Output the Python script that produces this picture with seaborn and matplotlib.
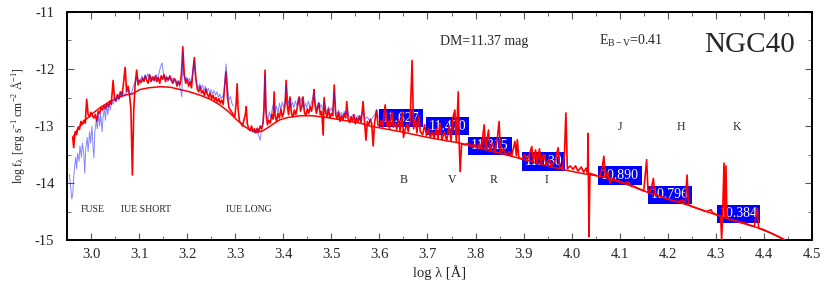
import matplotlib
matplotlib.use("Agg")
import matplotlib.pyplot as plt
import seaborn as sns
from matplotlib.ticker import MultipleLocator, FormatStrFormatter

# model continuum (log lambda, log flux)
model_x = [2.962, 2.975, 2.990, 3.005, 3.020, 3.040, 3.057, 3.074, 3.085, 3.102, 3.120, 3.144,
           3.165, 3.185, 3.205, 3.227, 3.248, 3.268, 3.285, 3.303, 3.318, 3.331, 3.345, 3.356,
           3.366, 3.380, 3.393, 3.410, 3.435, 3.460, 3.490, 3.525, 3.560, 3.580, 3.650, 3.700,
           3.768, 3.820, 3.870, 3.920, 3.969, 4.020, 4.065, 4.110, 4.160, 4.200, 4.239, 4.280,
           4.330, 4.385, 4.415, 4.444]
model_y = [-13.20, -13.02, -12.88, -12.77, -12.67, -12.57, -12.50, -12.45, -12.44, -12.36, -12.33, -12.31,
           -12.32, -12.36, -12.40, -12.46, -12.53, -12.63, -12.74, -12.89, -13.00, -13.07, -13.11, -13.09,
           -13.04, -12.96, -12.89, -12.85, -12.82, -12.82, -12.85, -12.90, -12.95, -13.00, -13.11, -13.20,
           -13.30, -13.41, -13.52, -13.63, -13.74, -13.83, -13.89, -14.01, -14.17, -14.28, -14.38, -14.50,
           -14.64, -14.78, -14.88, -15.00]

# observed spectrum, red (UV + optical)
obs_x = [2.962, 2.964, 2.967, 2.970, 2.973, 2.976, 2.979, 2.982, 2.985, 2.988, 2.991, 2.994, 2.997,
         3.000, 3.003, 3.006, 3.009, 3.012, 3.015, 3.018, 3.021, 3.024, 3.027, 3.030, 3.033, 3.036,
         3.039, 3.042, 3.046, 3.049, 3.052, 3.055, 3.058, 3.061, 3.064, 3.067, 3.071, 3.074, 3.077,
         3.080, 3.083, 3.086, 3.089, 3.092, 3.095, 3.098, 3.101, 3.104, 3.107, 3.110, 3.113, 3.116,
         3.119, 3.122, 3.125, 3.128, 3.131, 3.134, 3.137, 3.140, 3.143, 3.146, 3.149, 3.152, 3.155,
         3.158, 3.161, 3.164, 3.167, 3.170, 3.173, 3.176, 3.179, 3.182, 3.185, 3.188, 3.191, 3.194,
         3.197, 3.200, 3.203, 3.206, 3.209, 3.212, 3.215, 3.218, 3.221, 3.224, 3.227, 3.230, 3.233,
         3.236, 3.239, 3.242, 3.245, 3.248, 3.251, 3.254, 3.257, 3.260, 3.263, 3.266, 3.269, 3.272,
         3.275, 3.278, 3.281, 3.284, 3.287, 3.290, 3.293, 3.296, 3.299, 3.302, 3.304, 3.306, 3.309,
         3.312, 3.315, 3.318, 3.321, 3.323, 3.325, 3.328, 3.331, 3.334, 3.337, 3.340, 3.343, 3.346,
         3.349, 3.352, 3.355, 3.358, 3.360, 3.362, 3.364, 3.367, 3.370, 3.373, 3.376, 3.379, 3.381,
         3.383, 3.386, 3.389, 3.392, 3.395, 3.398, 3.401, 3.404, 3.406, 3.408, 3.411, 3.414, 3.417,
         3.420, 3.423, 3.426, 3.429, 3.433, 3.436, 3.439, 3.441, 3.444, 3.447, 3.450, 3.453, 3.456,
         3.459, 3.462, 3.464, 3.466, 3.469, 3.472, 3.474, 3.477, 3.480, 3.483, 3.485, 3.488, 3.491,
         3.494, 3.497, 3.500, 3.503, 3.506, 3.509, 3.512, 3.515, 3.518, 3.521, 3.524, 3.527, 3.530,
         3.532, 3.535, 3.538, 3.541, 3.544, 3.547, 3.550, 3.553, 3.556, 3.559, 3.562, 3.566, 3.569,
         3.572, 3.575, 3.578, 3.581, 3.584, 3.587, 3.590, 3.594, 3.597,
         3.600, 3.604, 3.607, 3.612, 3.615, 3.618, 3.621, 3.626, 3.629, 3.633, 3.636, 3.640, 3.643,
         3.648, 3.650, 3.653, 3.657, 3.660, 3.664, 3.668, 3.671, 3.675, 3.678, 3.682, 3.685, 3.690,
         3.694, 3.698, 3.702, 3.706, 3.710, 3.714, 3.718, 3.722, 3.726, 3.730, 3.735, 3.740, 3.745,
         3.749, 3.753, 3.757, 3.760, 3.764, 3.766, 3.768, 3.771, 3.778, 3.785, 3.790, 3.797, 3.803,
         3.808, 3.812, 3.818, 3.821, 3.827, 3.830, 3.836, 3.840, 3.845, 3.849, 3.852, 3.858, 3.863,
         3.870, 3.875, 3.882, 3.885, 3.887, 3.890, 3.896, 3.902, 3.907, 3.912, 3.917, 3.920, 3.925,
         3.928, 3.933, 3.936, 3.942, 3.947, 3.953, 3.958, 3.965, 3.972, 3.975, 3.981, 3.985, 3.988,
         3.991, 3.997, 4.003, 4.008, 4.013, 4.020, 4.025, 4.030, 4.033, 4.034, 4.036, 4.038, 4.045,
         4.052, 4.059, 4.064, 4.067, 4.070, 4.075, 4.080, 4.085, 4.092, 4.100, 4.110, 4.118, 4.122,
         4.130, 4.140, 4.150, 4.156, 4.159, 4.165, 4.170, 4.173, 4.180, 4.190, 4.200, 4.210, 4.220,
         4.230, 4.236, 4.240, 4.243, 4.250, 4.260, 4.270, 4.280, 4.290, 4.293, 4.300, 4.310, 4.312,
         4.314, 4.317, 4.319, 4.321, 4.323, 4.330, 4.340, 4.350, 4.360, 4.370, 4.380, 4.386, 4.389,
         4.400, 4.415, 4.430, 4.444]
obs_y = [-13.20, -13.38, -13.10, -13.15, -13.02, -13.06, -12.92, -12.97, -12.90, -12.95, -12.53, -12.80, -12.84,
         -12.76, -12.82, -12.86, -12.80, -12.92, -12.74, -12.78, -12.68, -12.72, -12.64, -12.70, -12.60, -12.66,
         -12.56, -12.62, -12.20, -12.52, -12.56, -12.45, -12.52, -12.40, -12.47, -12.30, -11.97, -12.40, -12.30,
         -12.45, -12.70, -13.86, -12.70, -12.25, -12.02, -12.28, -12.20, -12.24, -12.16, -12.22, -12.12, -12.20,
         -12.25, -12.10, -12.22, -12.14, -12.20, -12.12, -12.22, -12.15, -12.25, -12.12, -12.18, -12.10, -12.22,
         -12.15, -12.19, -12.12, -12.20, -12.25, -12.17, -12.20, -12.30, -12.22, -12.28, -12.10, -11.61, -12.10,
         -12.25, -12.18, -12.30, -12.22, -12.33, -12.05, -11.80, -12.15, -12.35, -12.40, -12.30, -12.42, -12.38,
         -12.47, -12.35, -12.44, -12.50, -12.42, -12.52, -12.46, -12.55, -12.50, -12.58, -12.52, -12.60, -12.55,
         -12.62, -12.30, -12.05, -12.50, -12.68, -12.72, -12.76, -12.80, -12.84, -12.60, -12.26, -12.70, -12.92,
         -12.95, -13.00, -12.90, -12.80, -12.66, -12.95, -13.05, -13.08, -13.00, -13.10, -13.05, -13.12, -13.04,
         -13.10, -13.00, -13.05, -12.95, -12.70, -12.02, -12.75, -12.98, -12.90, -12.95, -12.80, -12.88, -12.40,
         -12.82, -12.92, -12.78, -12.86, -12.70, -12.84, -12.76, -12.60, -12.20, -12.62, -12.80, -12.49, -12.78,
         -12.84, -12.72, -12.80, -12.68, -12.49, -12.74, -12.64, -12.49, -12.76, -12.82, -12.70, -12.78, -12.66,
         -12.74, -12.55, -12.36, -12.62, -12.78, -12.66, -12.60, -12.80, -12.74, -13.16, -12.50, -12.76, -12.84,
         -12.70, -12.86, -12.78, -12.82, -12.28, -12.80, -12.88, -12.76, -12.92, -12.82, -12.90, -12.78, -12.86,
         -12.57, -12.88, -12.94, -12.84, -12.92, -12.80, -12.96, -12.86, -12.92, -12.82, -12.94, -12.57, -12.90,
         -13.25, -12.92, -12.98, -12.88, -12.96, -13.35, -12.94, -12.72, -12.98,
         -13.00, -12.90, -13.02, -12.63, -13.00, -12.92, -13.05, -12.75, -13.02, -12.95, -13.06, -12.88, -13.08,
         -12.75, -13.20, -13.08, -12.96, -13.10, -12.90, -11.85, -13.05, -12.88, -13.12, -12.82, -13.10, -13.15,
         -12.98, -13.17, -13.05, -13.20, -13.10, -13.22, -13.05, -13.22, -12.95, -13.24, -13.10, -13.26, -13.00,
         -13.27, -12.85, -12.72, -13.28, -12.40, -13.30, -13.80, -13.31, -13.33, -13.30, -13.35, -13.33, -13.38,
         -13.30, -13.40, -12.98, -13.42, -13.07, -13.43, -13.30, -13.46, -13.25, -12.92, -13.48, -13.40, -13.50,
         -13.45, -13.53, -13.27, -13.52, -13.24, -13.56, -13.58, -13.50, -13.61, -13.50, -13.36, -13.63, -13.42,
         -13.64, -13.40, -13.66, -13.50, -13.67, -13.58, -13.69, -13.62, -13.38, -13.72, -13.74, -13.50, -12.77,
         -13.75, -13.70, -13.76, -13.70, -13.79, -13.72, -13.81, -13.74, -13.82, -13.13, -14.94, -13.83, -13.85,
         -13.87, -13.89, -13.70, -13.53, -13.90, -13.80, -14.00, -13.92, -13.95, -13.97, -14.01, -13.98, -14.04,
         -14.06, -14.10, -14.14, -13.59, -14.17, -14.12, -13.92, -14.19, -14.22, -14.25, -14.28, -14.31, -14.33,
         -14.30, -14.37, -13.86, -14.38, -14.41, -14.44, -14.47, -14.50, -14.47, -14.52, -14.55, -14.58, -15.00,
         -14.58, -13.65, -14.60, -13.70, -14.61, -14.64, -14.66, -14.69, -14.70, -14.74, -14.76, -14.45, -14.79,
         -14.82, -14.88, -14.94, -15.00]

# FUSE + IUE short wavelength spectrum (blue)
uv_x = [2.955, 2.958, 2.960, 2.962, 2.964, 2.966, 2.968, 2.970, 2.972, 2.975, 2.977, 2.980, 2.982,
        2.985, 2.987, 2.989, 2.992, 2.994, 2.997, 2.999, 3.002, 3.004, 3.006, 3.008, 3.011, 3.013,
        3.016, 3.018, 3.020, 3.023, 3.025, 3.028, 3.030, 3.033, 3.035, 3.038, 3.040, 3.043, 3.046,
        3.049, 3.052, 3.055, 3.058, 3.061, 3.064, 3.067, 3.070, 3.073, 3.076, 3.079, 3.082, 3.085,
        3.088, 3.091, 3.094, 3.097, 3.100, 3.103, 3.106, 3.109, 3.112, 3.115, 3.118, 3.121, 3.124,
        3.127, 3.130, 3.133, 3.136, 3.139, 3.142, 3.145, 3.148, 3.151, 3.154, 3.157, 3.160, 3.163,
        3.166, 3.169, 3.172, 3.175, 3.178, 3.181, 3.184, 3.187, 3.189, 3.191, 3.193, 3.196, 3.199,
        3.202, 3.205, 3.208, 3.211, 3.214, 3.217, 3.220, 3.223, 3.226, 3.229, 3.232, 3.235, 3.238,
        3.241, 3.244, 3.247, 3.250, 3.253, 3.256, 3.259, 3.262, 3.265, 3.268, 3.271, 3.274, 3.277,
        3.279, 3.281, 3.284, 3.287, 3.290, 3.293, 3.296]
uv_y = [-13.85, -14.10, -14.28, -14.20, -13.90, -13.70, -13.55, -13.75, -13.48, -13.62, -13.35, -13.55, -13.30,
        -13.50, -13.83, -13.40, -13.20, -13.45, -13.10, -13.30, -13.00, -13.35, -13.56, -13.10, -12.90, -13.05,
        -12.80, -13.00, -12.78, -13.10, -12.85, -12.70, -12.90, -12.62, -12.80, -12.60, -12.72, -12.55, -12.62,
        -12.52, -12.58, -12.45, -12.55, -12.42, -12.50, -12.40, -12.48, -12.42, -12.35, -12.40, -12.45, -12.40,
        -12.30, -12.25, -12.20, -12.15, -12.22, -12.18, -12.12, -12.20, -12.10, -12.18, -12.08, -12.16, -12.12,
        -12.20, -12.14, -12.22, -12.10, -12.18, -12.05, -11.95, -11.89, -12.10, -12.18, -12.12, -12.22, -12.14,
        -12.20, -12.16, -12.24, -12.18, -12.26, -12.20, -12.30, -12.38, -12.49, -11.70, -12.10, -12.20, -12.14,
        -12.22, -12.16, -12.25, -12.10, -11.85, -12.12, -12.28, -12.34, -12.26, -12.36, -12.28, -12.38, -12.30,
        -12.40, -12.34, -12.42, -12.36, -12.44, -12.38, -12.46, -12.40, -12.50, -12.44, -12.52, -12.48, -12.40,
        -12.10, -11.91, -12.30, -12.55, -12.48, -12.60, -12.65]

# IUE long wavelength spectrum (blue)
iuel_x = [3.335, 3.340, 3.344, 3.348, 3.352, 3.355, 3.358, 3.362, 3.365, 3.368, 3.371, 3.374, 3.377,
          3.380, 3.383, 3.386, 3.389, 3.392, 3.395, 3.398, 3.401, 3.404, 3.407, 3.410, 3.413, 3.416,
          3.419, 3.422, 3.425, 3.428, 3.431, 3.434, 3.437, 3.440, 3.443, 3.446, 3.449, 3.452, 3.455,
          3.458, 3.461, 3.464, 3.467, 3.470, 3.473, 3.476, 3.479, 3.482, 3.485, 3.488, 3.491, 3.494,
          3.497, 3.500, 3.503, 3.506, 3.509, 3.512, 3.515, 3.518, 3.521, 3.524, 3.527, 3.530, 3.533,
          3.536, 3.540, 3.545, 3.550, 3.555, 3.560, 3.565, 3.570, 3.575, 3.580, 3.585, 3.590, 3.595,
          3.598]
iuel_y = [-13.05, -13.12, -13.05, -13.15, -13.25, -13.05, -12.90, -12.10, -12.80, -12.90, -12.75, -12.85, -12.70,
          -12.60, -12.75, -12.65, -12.78, -12.60, -12.70, -12.58, -12.68, -12.55, -12.30, -12.62, -12.52, -12.66,
          -12.58, -12.68, -12.56, -12.64, -12.52, -12.60, -12.50, -12.62, -12.70, -12.60, -12.68, -12.56, -12.66,
          -12.60, -12.52, -12.40, -12.62, -12.70, -12.58, -12.68, -12.62, -12.72, -12.55, -12.70, -12.76, -12.66,
          -12.74, -12.68, -12.76, -12.40, -12.74, -12.80, -12.72, -12.82, -12.76, -12.84, -12.74, -12.80, -12.70,
          -12.82, -12.86, -12.80, -12.88, -12.82, -12.90, -12.75, -12.88, -12.84, -12.92, -12.86, -12.80, -12.72,
          -12.85]

# photometry
bands = ["B", "V", "R", "I", "J", "H", "K"]
band_x = [3.651, 3.751, 3.838, 3.947, 4.100, 4.227, 4.344]
mags = ["11.627", "11.470", "11.315", "11.130", "10.890", "10.796", "10.384"]
phot_x = [3.645, 3.741, 3.830, 3.942, 4.100, 4.205, 4.347]
phot_y = [-12.86, -13.00, -13.35, -13.62, -13.87, -14.21, -14.54]

sns.set_style("ticks")
plt.rcParams['font.family'] = ['Liberation Serif', 'DejaVu Serif']
plt.rcParams['mathtext.fontset'] = 'custom'
plt.rcParams['mathtext.rm'] = 'Liberation Serif'
plt.rcParams['mathtext.it'] = 'Liberation Serif:italic'
plt.rcParams['axes.unicode_minus'] = False

fig = plt.figure(figsize=(8.3, 2.97), dpi=100)
ax = fig.add_axes([0.0807, 0.1919, 0.8976, 0.7677])

# photometry boxes (under the spectrum)
for x, y, m in zip(phot_x, phot_y, mags):
    ax.text(x, y, m, color='white', fontsize=10, ha='center', va='center', zorder=2,
            bbox=dict(boxstyle='square,pad=0.2', fc='#0000ff', ec='none'))

sns.lineplot(x=obs_x, y=obs_y, sort=False, estimator=None, color='red', lw=1.2, ax=ax, zorder=3)
sns.lineplot(x=model_x, y=model_y, sort=False, estimator=None, color='red', lw=1.1, ax=ax, zorder=3)
sns.lineplot(x=uv_x, y=uv_y, sort=False, estimator=None, color='#2222ff', lw=0.7, alpha=0.55, ax=ax, zorder=4)
sns.lineplot(x=iuel_x, y=iuel_y, sort=False, estimator=None, color='#2222ff', lw=0.7, alpha=0.55, ax=ax, zorder=4)

for b, x in zip(bands[:4], band_x[:4]):
    ax.text(x, -13.95, b, fontsize=8.5, ha='center', va='center')
for b, x in zip(bands[4:], band_x[4:]):
    ax.text(x, -13.02, b, fontsize=8.5, ha='center', va='center')

ax.text(3.003, -14.46, "FUSE", fontsize=7, ha='center', va='center')
ax.text(3.115, -14.46, "IUE SHORT", fontsize=7, ha='center', va='center')
ax.text(3.329, -14.46, "IUE LONG", fontsize=7, ha='center', va='center')
ax.text(3.818, -11.51, "DM=11.37 mag", fontsize=10, ha='center', va='center')
ax.text(4.124, -11.51, r"E$_{\mathrm{B-V}}$=0.41", fontsize=10, ha='center', va='center')
ax.text(4.370, -11.58, "NGC40", fontsize=21, ha='center', va='center')

ax.set_xlim(2.95, 4.5)
ax.set_ylim(-15, -11)
ax.xaxis.set_major_locator(MultipleLocator(0.1))
ax.xaxis.set_minor_locator(MultipleLocator(0.05))
ax.yaxis.set_major_locator(MultipleLocator(1))
ax.yaxis.set_minor_locator(MultipleLocator(0.5))
ax.xaxis.set_major_formatter(FormatStrFormatter('%.1f'))
ax.yaxis.set_major_formatter(FormatStrFormatter('%d'))
ax.tick_params(which='both', direction='in', top=True, right=True, color='#555555')
ax.tick_params(which='major', length=5, width=0.8, labelsize=10.5)
ax.tick_params(axis='y', which='major', pad=9)
ax.tick_params(axis='x', which='major', pad=6)
ax.tick_params(which='minor', length=3, width=0.6)
for s in ax.spines.values():
    s.set_linewidth(1.4)
    s.set_color('black')

ax.set_xlabel("log λ [Å]", fontsize=10.5, labelpad=3)
ax.set_ylabel(r"log f$_{\mathrm{λ}}$ [erg s$^{-1}$ cm$^{-2}$ Å$^{-1}$]", fontsize=8.5, labelpad=6)

fig.savefig("out.png", dpi=100)
